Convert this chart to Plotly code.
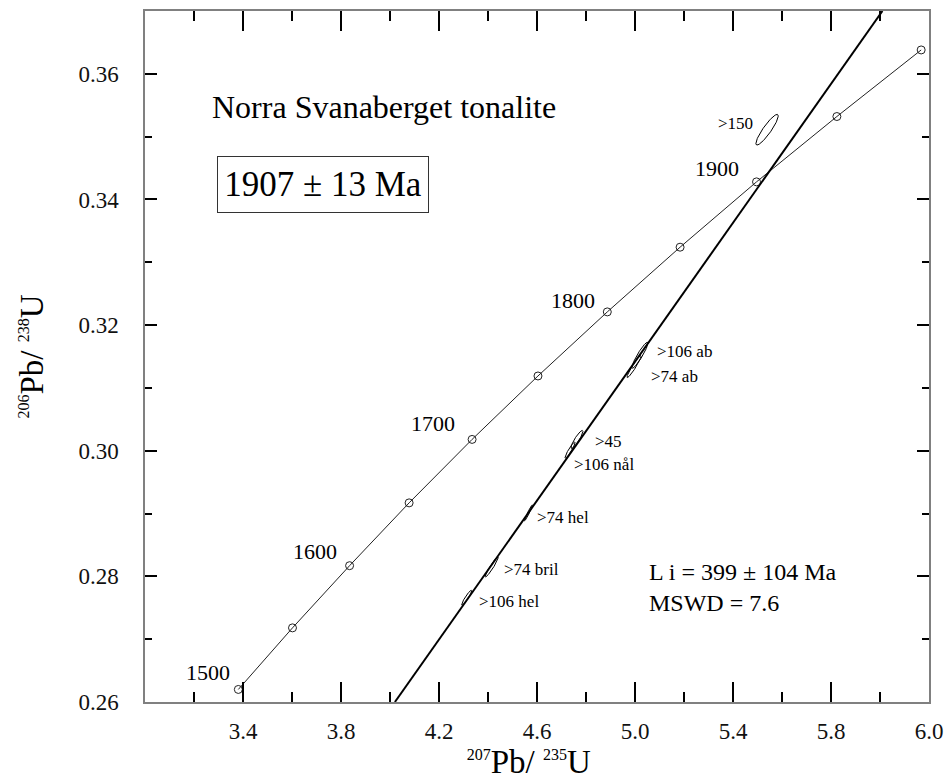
import numpy as np
import plotly.graph_objects as go

# ---------------- data ----------------
# Concordia reference points (age in Ma, 207Pb/235U, 206Pb/238U)
conc_age = [1500, 1550, 1600, 1650, 1700, 1750, 1800, 1850, 1900, 1950, 2000]
conc_x = [3.381, 3.602, 3.835, 4.078, 4.335, 4.604, 4.887, 5.184, 5.496, 5.824, 6.168]
conc_y = [0.2620, 0.2718, 0.2817, 0.2917, 0.3018, 0.3119, 0.3221, 0.3324, 0.3428, 0.3532, 0.3638]

# Labelled ages on the concordia
age_labels = ["1500", "1600", "1700", "1800", "1900"]

# Discordia (regression line) end points
disc_x = [4.020, 6.010]
disc_y = [0.260, 0.370]

# Analysed zircon fractions (error ellipses)
frac_names = [">150", ">106 ab", ">74 ab", ">45", ">106 nål", ">74 hel", ">74 bril", ">106 hel"]
frac_x = [5.539, 5.020, 4.996, 4.763, 4.735, 4.565, 4.415, 4.313]
frac_y = [0.3511, 0.3152, 0.3134, 0.3018, 0.3001, 0.2901, 0.2815, 0.2766]
frac_sx = [0.0457, 0.0327, 0.0286, 0.0245, 0.0204, 0.0163, 0.0265, 0.0204]
frac_sy = [0.00244, 0.00207, 0.00175, 0.00143, 0.00127, 0.00127, 0.00159, 0.00119]
frac_rho = [0.90, 0.93, 0.95, 0.90, 0.93, 0.97, 0.95, 0.93]

# Axis ticks
x_tickvals = [3.4, 3.8, 4.2, 4.6, 5.0, 5.4, 5.8, 6.2]
x_ticktext = ["3.4", "3.8", "4.2", "4.6", "5.0", "5.4", "5.8", "6.0"]
x_minorvals = [3.2, 3.6, 4.0, 4.4, 4.8, 5.2, 5.6, 6.0]
y_tickvals = [0.26, 0.28, 0.30, 0.32, 0.34, 0.36]
y_ticktext = ["0.26", "0.28", "0.30", "0.32", "0.34", "0.36"]
y_minorvals = [0.27, 0.29, 0.31, 0.33, 0.35]

title_text = "Norra Svanaberget tonalite"
age_text = "1907 ± 13 Ma"
stats_text = "L i = 399 ± 104 Ma<br>MSWD = 7.6"

# ---------------- figure ----------------
FONT = "Liberation Serif, Times New Roman, serif"
fig = go.Figure()

# Error ellipses
t = np.linspace(0, 2 * np.pi, 120)
for cx, cy, sx, sy, r in zip(frac_x, frac_y, frac_sx, frac_sy, frac_rho):
    ex = cx + sx * np.cos(t)
    ey = cy + sy * (r * np.cos(t) + np.sqrt(1 - r * r) * np.sin(t))
    fig.add_trace(go.Scatter(x=ex, y=ey, mode="lines",
                             line=dict(color="black", width=1),
                             hoverinfo="skip", showlegend=False))

# Concordia
fig.add_trace(go.Scatter(x=conc_x, y=conc_y, mode="lines+markers",
                         line=dict(color="#222", width=1),
                         marker=dict(symbol="circle-open", size=8,
                                     color="#222", line=dict(width=1)),
                         text=[str(a) for a in conc_age],
                         showlegend=False))

# Discordia
fig.add_trace(go.Scatter(x=disc_x, y=disc_y, mode="lines",
                         line=dict(color="black", width=2),
                         showlegend=False))

annotations = []
# age labels (placed left/up of their concordia points)
age_pos = {"1500": (3.257, 0.2647), "1600": (3.692, 0.2839), "1700": (4.176, 0.3044),
           "1800": (4.745, 0.3239), "1900": (5.335, 0.3450)}
for lab in age_labels:
    ax_, ay_ = age_pos[lab]
    annotations.append(dict(x=ax_, y=ay_, xref="x", yref="y", text=lab,
                            showarrow=False, xanchor="center", yanchor="middle",
                            font=dict(family=FONT, size=22, color="black")))

# fraction labels
frac_lab_pos = {">150": (5.490, 0.3521, "right"), ">106 ab": (5.082, 0.3158, "left"),
                ">74 ab": (5.057, 0.3118, "left"), ">45": (4.829, 0.3015, "left"),
                ">106 nål": (4.743, 0.2978, "left"), ">74 hel": (4.592, 0.2894, "left"),
                ">74 bril": (4.457, 0.2811, "left"), ">106 hel": (4.355, 0.2760, "left")}
for name in frac_names:
    lx, ly, anc = frac_lab_pos[name]
    annotations.append(dict(x=lx, y=ly, xref="x", yref="y", text=name,
                            showarrow=False, xanchor=anc, yanchor="middle",
                            font=dict(family=FONT, size=17, color="black")))

annotations.append(dict(x=0.083, y=0.861, xref="paper", yref="paper", text=title_text,
                        showarrow=False, xanchor="left", yanchor="middle",
                        font=dict(family=FONT, size=32, color="black")))
annotations.append(dict(x=0.227, y=0.7496, xref="paper", yref="paper", text=age_text,
                        showarrow=False, xanchor="center", yanchor="middle",
                        width=210, height=55, borderpad=0,
                        bordercolor="#333", borderwidth=1, bgcolor="white",
                        font=dict(family=FONT, size=35, color="black")))
annotations.append(dict(x=0.640, y=0.166, xref="paper", yref="paper", text=stats_text,
                        showarrow=False, xanchor="left", yanchor="middle", align="left",
                        font=dict(family=FONT, size=24, color="black")))

axis_common = dict(showline=True, linecolor="#808080", linewidth=1.5, mirror="ticks",
                   ticks="inside", tickcolor="black", tickwidth=2,
                   showgrid=False, zeroline=False, automargin=False,
                   tickfont=dict(family=FONT, size=23, color="#111"))

fig.update_layout(
    width=945, height=781,
    margin=dict(l=145, r=16, t=11, b=79),
    paper_bgcolor="white", plot_bgcolor="white",
    annotations=annotations,
    xaxis=dict(range=[3.0, 6.2], tickmode="array", tickvals=x_tickvals, ticktext=x_ticktext,
               ticklen=20, ticklabelstandoff=8,
               minor=dict(tickmode="array", tickvals=x_minorvals, ticks="inside",
                          ticklen=10, tickwidth=2, tickcolor="black", showgrid=False),
               title=dict(text="<sup><span style='font-size:16px'>207</span></sup>Pb/ "
                               "<sup><span style='font-size:16px'>235</span></sup>U&nbsp;&nbsp;",
                          font=dict(family=FONT, size=33, color="black"), standoff=7),
               **axis_common),
    yaxis=dict(range=[0.26, 0.37], tickmode="array", tickvals=y_tickvals, ticktext=y_ticktext,
               ticklen=12, ticklabelstandoff=20,
               minor=dict(tickmode="array", tickvals=y_minorvals, ticks="inside",
                          ticklen=7, tickwidth=2, tickcolor="black", showgrid=False),
               title=dict(text="<sup><span style='font-size:16px'>206</span></sup>Pb/ "
                               "<sup><span style='font-size:16px'>238</span></sup>U",
                          font=dict(family=FONT, size=33, color="black"), standoff=25),
               **axis_common),
)

fig.write_html("out.html")
